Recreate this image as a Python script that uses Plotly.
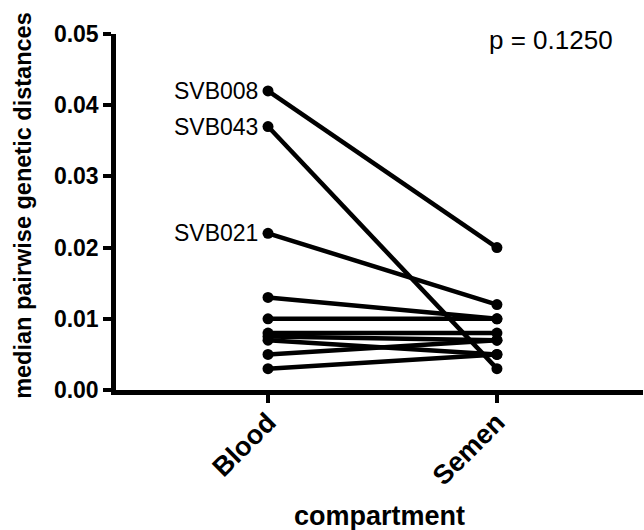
import plotly.graph_objects as go

categories = ["Blood", "Semen"]
subjects = ["SVB008", "SVB043", "SVB021", "", "", "", "", "", "", ""]
blood = [0.042, 0.037, 0.022, 0.013, 0.010, 0.008, 0.0075, 0.007, 0.005, 0.003]
semen = [0.020, 0.003, 0.012, 0.010, 0.010, 0.008, 0.007, 0.005, 0.007, 0.005]
yticks = [0.00, 0.01, 0.02, 0.03, 0.04, 0.05]
ytick_labels = ["0.00", "0.01", "0.02", "0.03", "0.04", "0.05"]
p_text = "p = 0.1250"
x_title = "compartment"
y_title = "median pairwise genetic distances"

FONT = "Liberation Sans, Arial, sans-serif"
xpos = [0, 1]
fig = go.Figure()
for name, b, s in zip(subjects, blood, semen):
    fig.add_trace(go.Scatter(
        x=xpos, y=[b, s], mode="lines+markers",
        line=dict(color="black", width=4.5),
        marker=dict(color="black", size=11),
        showlegend=False, cliponaxis=False,
    ))
    if name:
        fig.add_annotation(x=0, y=b, text=name, xanchor="right", yanchor="middle",
                           xshift=-8, showarrow=False,
                           font=dict(family=FONT, size=23, color="black"))

fig.add_annotation(x=1.0, xref="paper", xanchor="right", xshift=-28,
                   y=0.0492, yref="y", yanchor="middle", text=p_text, showarrow=False,
                   font=dict(family=FONT, size=26, color="black"))

fig.add_annotation(x=0.5, xref="paper", y=-0.354, yref="paper", yanchor="middle",
                   text=f"<b>{x_title}</b>", showarrow=False,
                   font=dict(family=FONT, size=27, color="black"))
fig.add_annotation(x=-0.1765, xref="paper", y=0.52, yref="paper", xanchor="center", yanchor="middle",
                   textangle=-90, text=f"<b>{y_title}</b>", showarrow=False,
                   font=dict(family=FONT, size=23.5, color="black"))

fig.update_layout(
    width=644, height=530,
    margin=dict(l=116, r=1, t=34, b=140),
    plot_bgcolor="white", paper_bgcolor="white",
    font=dict(family=FONT, color="black"),
)
fig.update_xaxes(
    range=[-0.664, 1.638], tickvals=xpos, ticktext=[f"<b>{c}</b>" for c in categories],
    tickangle=-45, showgrid=False, zeroline=False,
    showline=True, linecolor="black", linewidth=4.5,
    ticks="outside", ticklen=8, tickwidth=4, tickcolor="black",
    ticklabelstandoff=-7,
    tickfont=dict(size=27, family=FONT, color="black"),
)
fig.update_yaxes(
    range=[0, 0.05], tickvals=yticks, ticktext=[f"<b>{t}</b>" for t in ytick_labels],
    showgrid=False, zeroline=False,
    showline=True, linecolor="black", linewidth=4.5,
    ticks="outside", ticklen=8, tickwidth=4, tickcolor="black",
    tickfont=dict(size=23, family=FONT, color="black"),
)
fig.write_html("out.html")
